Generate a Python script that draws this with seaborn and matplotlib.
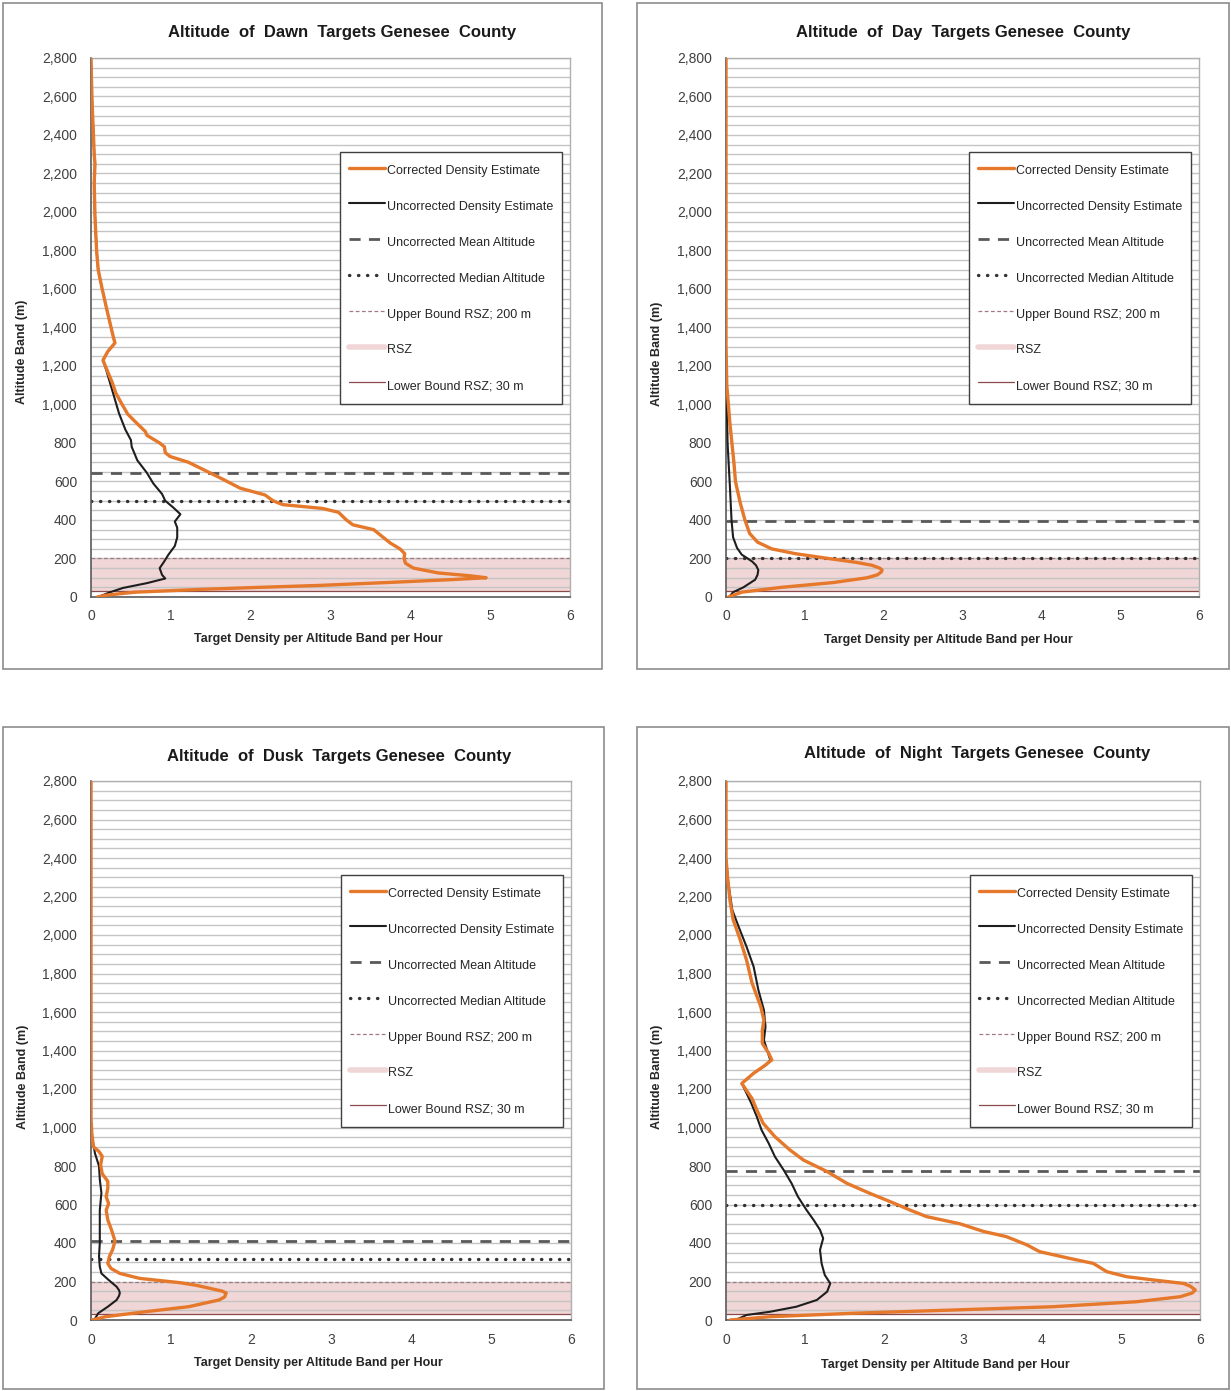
import numpy as np
import pandas as pd
import matplotlib
matplotlib.use("Agg")
import matplotlib.pyplot as plt
from matplotlib.lines import Line2D
from matplotlib.patches import Rectangle
from matplotlib.ticker import MultipleLocator, FuncFormatter
import seaborn as sns

# ---------------- data ----------------
titles = ["Altitude  of  Dawn  Targets Genesee  County",
          "Altitude  of  Day  Targets Genesee  County",
          "Altitude  of  Dusk  Targets Genesee  County",
          "Altitude  of  Night  Targets Genesee  County"]

dawn_corr_alt = [0, 10, 25, 40, 50, 60, 75, 90, 100, 110, 125, 150, 175, 200, 225, 250, 280, 310, 350, 375,
                 400, 440, 460, 480, 500, 530, 565, 610, 645, 700, 730, 750, 780, 800, 840, 860, 900, 950,
                 1000, 1060, 1110, 1180, 1230, 1275, 1320, 1350, 1420, 1490, 1600, 1700, 1800, 1975, 2150,
                 2250, 2300, 2410, 2550, 2700, 2800]
dawn_corr_val = [0.08, 0.2, 0.55, 1.4, 2.1, 2.85, 3.7, 4.5, 4.95, 4.75, 4.35, 4.04, 3.94, 3.92, 3.93, 3.87, 3.75,
                 3.66, 3.54, 3.28, 3.2, 3.1, 2.9, 2.4, 2.28, 2.18, 1.87, 1.66, 1.49, 1.22, 0.99, 0.93, 0.92,
                 0.86, 0.70, 0.68, 0.58, 0.46, 0.39, 0.31, 0.27, 0.20, 0.15, 0.21, 0.30, 0.28, 0.24, 0.20,
                 0.14, 0.09, 0.07, 0.05, 0.04, 0.05, 0.04, 0.03, 0.015, 0.005, 0.0]
dawn_unc_alt = [0, 25, 47, 72, 96, 115, 150, 180, 220, 265, 310, 360, 392, 430, 465, 500, 535, 590, 645, 710,
                780, 815, 870, 955, 1040, 1110, 1180, 1230, 1275, 1320, 1350, 1420, 1490, 1600, 1700, 1800,
                1975, 2150, 2250, 2300, 2410, 2550, 2700, 2800]
dawn_unc_val = [0.09, 0.24, 0.40, 0.70, 0.93, 0.89, 0.86, 0.91, 0.97, 1.05, 1.08, 1.08, 1.05, 1.12, 1.03,
                0.93, 0.89, 0.78, 0.70, 0.58, 0.51, 0.50, 0.43, 0.35, 0.29, 0.24, 0.19, 0.15, 0.21, 0.30,
                0.28, 0.24, 0.20, 0.14, 0.09, 0.07, 0.05, 0.04, 0.05, 0.04, 0.03, 0.015, 0.005, 0.0]

day_corr_alt = [0, 25, 50, 75, 100, 115, 130, 140, 150, 165, 180, 200, 225, 250, 285, 330, 400, 490, 600,
                700, 780, 900, 1000, 1100, 1300, 2800]
day_corr_val = [0.03, 0.2, 0.7, 1.36, 1.79, 1.92, 1.97, 1.98, 1.95, 1.85, 1.65, 1.3, 0.88, 0.58, 0.40,
                0.30, 0.24, 0.18, 0.12, 0.10, 0.08, 0.05, 0.03, 0.01, 0.0, 0.0]
day_unc_alt = [0, 25, 50, 90, 115, 140, 165, 185, 220, 255, 310, 400, 570, 800, 1000, 1300, 2800]
day_unc_val = [0.04, 0.09, 0.22, 0.37, 0.40, 0.41, 0.38, 0.33, 0.20, 0.14, 0.09, 0.07, 0.05, 0.02, 0.01,
               0.0, 0.0]

dusk_corr_alt = [0, 17, 43, 69, 104, 120, 140, 150, 165, 180, 194, 216, 242, 268, 294, 330, 365, 410, 450,
                 475, 520, 570, 605, 640, 685, 720, 760, 805, 850, 875, 900, 970, 1050, 2800]
dusk_corr_val = [0.01, 0.18, 0.68, 1.22, 1.60, 1.67, 1.69, 1.64, 1.48, 1.32, 1.11, 0.61, 0.36, 0.25, 0.21,
                 0.23, 0.27, 0.30, 0.27, 0.25, 0.21, 0.19, 0.22, 0.19, 0.21, 0.21, 0.14, 0.12, 0.14, 0.10,
                 0.03, 0.01, 0.0, 0.0]
dusk_unc_alt = [0, 35, 69, 104, 125, 140, 155, 173, 208, 242, 277, 330, 400, 485, 570, 660, 730, 800, 865,
                935, 1000, 2800]
dusk_unc_val = [0.04, 0.09, 0.21, 0.32, 0.35, 0.36, 0.35, 0.32, 0.22, 0.13, 0.11, 0.10, 0.11, 0.11, 0.11,
                0.13, 0.11, 0.10, 0.05, 0.02, 0.0, 0.0]

night_corr_alt = [0, 17, 35, 52, 69, 95, 121, 140, 156, 175, 190, 208, 225, 251, 294, 320, 355, 390, 433,
                  460, 500, 537, 571, 601, 658, 710, 771, 831, 883, 952, 1022, 1091, 1150, 1180, 1229, 1282,
                  1316, 1351, 1386, 1437, 1506, 1558, 1628, 1750, 1870, 1975, 2080, 2180, 2300, 2400, 2800]
night_corr_val = [0.05, 0.56, 1.61, 2.88, 4.14, 5.2, 5.75, 5.9, 5.94, 5.88, 5.79, 5.41, 5.07, 4.82, 4.65,
                  4.35, 3.97, 3.81, 3.55, 3.26, 2.96, 2.54, 2.33, 2.16, 1.82, 1.53, 1.28, 0.98, 0.81, 0.62,
                  0.47, 0.39, 0.33, 0.28, 0.20, 0.35, 0.47, 0.58, 0.54, 0.46, 0.46, 0.48, 0.44, 0.33, 0.26,
                  0.18, 0.09, 0.05, 0.02, 0.0, 0.0]
night_unc_alt = [0, 26, 43, 69, 104, 147, 190, 234, 294, 364, 424, 468, 519, 571, 641, 710, 779, 848, 918,
                 987, 1056, 1126, 1178, 1229, 1282, 1325, 1351, 1403, 1454, 1523, 1610, 1714, 1835, 1939,
                 2043, 2130, 2268, 2400, 2800]
night_unc_val = [0.12, 0.26, 0.56, 0.89, 1.15, 1.28, 1.32, 1.25, 1.21, 1.19, 1.23, 1.19, 1.11, 1.02, 0.91,
                 0.83, 0.73, 0.62, 0.54, 0.45, 0.39, 0.32, 0.26, 0.20, 0.35, 0.51, 0.56, 0.52, 0.48, 0.50,
                 0.48, 0.41, 0.35, 0.26, 0.16, 0.08, 0.03, 0.0, 0.0]

mean_alt = [645, 395, 410, 775]
median_alt = [500, 205, 315, 600]
rsz_lower = 30
rsz_upper = 200

legend_labels = ["Corrected Density Estimate", "Uncorrected Density Estimate",
                 "Uncorrected Mean Altitude", "Uncorrected Median Altitude",
                 "Upper Bound RSZ; 200 m", "RSZ", "Lower Bound RSZ; 30 m"]
x_label = "Target Density per Altitude Band per Hour"
y_label = "Altitude Band (m)"

corr_series = [(dawn_corr_alt, dawn_corr_val), (day_corr_alt, day_corr_val),
               (dusk_corr_alt, dusk_corr_val), (night_corr_alt, night_corr_val)]
unc_series = [(dawn_unc_alt, dawn_unc_val), (day_unc_alt, day_unc_val),
              (dusk_unc_alt, dusk_unc_val), (night_unc_alt, night_unc_val)]

# ---------------- style ----------------
sns.set_theme(style="white")
plt.rcParams['font.family'] = ['Liberation Sans', 'DejaVu Sans']

ORANGE = '#E5782A'
BLACK = '#1e1e1e'
MEAN_C = '#595959'
MED_C = '#333333'
UPPER_C = '#a07a80'
LOWER_C = '#8a4a4a'
RSZ_C = '#f0d6d6'
GRID_C = '#c4c4c4'
TXT_C = '#404040'

W, H = 1231, 1391
fig = plt.figure(figsize=(W / 100, H / 100), dpi=100)
fig.patch.set_facecolor('white')

ax_px = [(91, 58, 570, 597), (726, 58, 1199, 597), (91, 781, 571, 1320), (726, 781, 1200, 1320)]
frame_px = [(3, 3, 602, 669), (637, 3, 1229, 669), (3, 727, 604, 1389), (637, 727, 1229, 1389)]
title_px = [(342, 33), (963, 33), (339, 756), (977, 754)]
xlab_px = [(318, 639), (948, 640), (318, 1363), (945, 1365)]
ylab_px = [(22, 352), (657, 354), (23, 1077), (657, 1077)]

for i in range(4):
    fl, ft, fr, fb = frame_px[i]
    fig.add_artist(Rectangle((fl / W, 1 - fb / H), (fr - fl) / W, (fb - ft) / H,
                             transform=fig.transFigure, fill=False, edgecolor='#8c8c8c', lw=1.2))
    l, t, r, b = ax_px[i]
    ax = fig.add_axes([l / W, 1 - b / H, (r - l) / W, (b - t) / H])
    ax.set_facecolor('white')
    ax.set_axisbelow(True)

    ax.axhspan(rsz_lower, rsz_upper, color=RSZ_C, zorder=0.2, lw=0)
    ax.axhline(rsz_upper, color=UPPER_C, lw=0.9, ls=(0, (3, 2)), zorder=2)
    ax.axhline(rsz_lower, color=LOWER_C, lw=0.9, zorder=2)
    ax.axhline(mean_alt[i], color=MEAN_C, lw=2.0, ls=(0, (4, 3)), zorder=2)
    ax.axhline(median_alt[i], color=MED_C, lw=2.4, ls=(0, (0.1, 2.6)),
               dash_capstyle='round', zorder=2)

    ua, uv = unc_series[i]
    ca, cv = corr_series[i]
    sns.lineplot(x=uv, y=ua, ax=ax, sort=False, estimator=None, orient='y',
                 color=BLACK, lw=1.5, zorder=3)
    sns.lineplot(x=cv, y=ca, ax=ax, sort=False, estimator=None, orient='y',
                 color=ORANGE, lw=2.4, zorder=4)

    ax.set_xlim(0, 6)
    ax.set_ylim(0, 2800)
    ax.xaxis.set_major_locator(MultipleLocator(1))
    ax.yaxis.set_major_locator(MultipleLocator(200))
    ax.yaxis.set_minor_locator(MultipleLocator(50))
    ax.yaxis.set_major_formatter(FuncFormatter(lambda v, p: f"{int(v):,}"))
    ax.grid(which='both', axis='y', color=GRID_C, lw=1.0)
    ax.grid(which='both', axis='x', visible=False)
    ax.tick_params(axis='both', which='major', labelsize=10, labelcolor=TXT_C, colors='#7f7f7f',
                   length=4, width=0.8)
    ax.tick_params(axis='y', which='major', pad=6)
    ax.tick_params(axis='x', which='major', pad=5)
    ax.tick_params(axis='y', which='minor', length=0)
    ax.set_xlabel('')
    ax.set_ylabel('')
    for side in ['left', 'bottom']:
        ax.spines[side].set_color('#5a5a5a')
        ax.spines[side].set_linewidth(1.2)
    for side in ['right', 'top']:
        ax.spines[side].set_color('#b0b0b0')
        ax.spines[side].set_linewidth(1.0)

    handles = [
        Line2D([], [], color=ORANGE, lw=2.4),
        Line2D([], [], color=BLACK, lw=1.5),
        Line2D([], [], color=MEAN_C, lw=2.0, ls=(0, (4, 3))),
        Line2D([], [], color=MED_C, lw=2.4, ls=(0, (0.1, 2.6)), dash_capstyle='round'),
        Line2D([], [], color=UPPER_C, lw=0.9, ls=(0, (3, 2))),
        Line2D([], [], color=RSZ_C, lw=4),
        Line2D([], [], color=LOWER_C, lw=0.9),
    ]
    leg = ax.legend(handles, legend_labels, loc='upper right', bbox_to_anchor=(0.983, 0.826),
                    fontsize=9, frameon=True, fancybox=False, framealpha=1,
                    edgecolor='#404040', handlelength=2.9, handletextpad=0.1,
                    handleheight=2.0, labelspacing=1.32, borderpad=0.72, borderaxespad=0)
    leg.get_frame().set_linewidth(1.0)
    for txt in leg.get_texts():
        txt.set_color('#262626')

    tx, ty = title_px[i]
    fig.text(tx / W, 1 - ty / H, titles[i], ha='center', va='center', fontsize=12,
             fontweight='bold', color='#1a1a1a')
    xx, xy = xlab_px[i]
    fig.text(xx / W, 1 - xy / H, x_label, ha='center', va='center', fontsize=9,
             fontweight='bold', color='#262626')
    yx, yy = ylab_px[i]
    fig.text(yx / W, 1 - yy / H, y_label, ha='center', va='center', fontsize=9,
             fontweight='bold', color='#262626', rotation=90)

fig.savefig('out.png', dpi=100, facecolor='white')
